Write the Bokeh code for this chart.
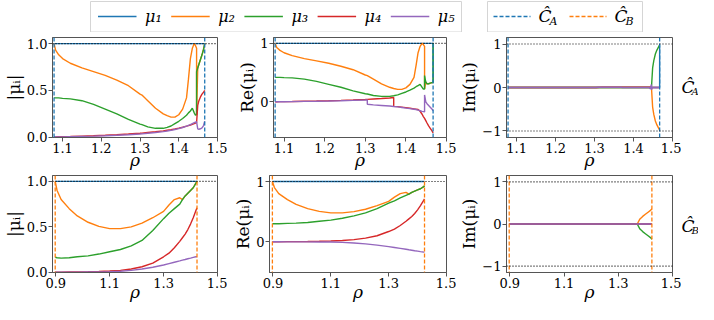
from bokeh.plotting import figure
from bokeh.layouts import column, row
from bokeh.models import Span, FixedTicker, Range1d
from bokeh.embed import file_html
from bokeh.resources import INLINE
from bokeh.core.properties import value

COLORS = ["#1f77b4", "#ff7f0e", "#2ca02c", "#d62728", "#9467bd"]
FONT = "DejaVu Serif"

# ---------------- family C_A ----------------
rhoA = [1.078, 1.082, 1.09, 1.10, 1.12, 1.15, 1.18, 1.21, 1.24, 1.27, 1.30, 1.305, 1.305,
        1.32, 1.34, 1.36, 1.37, 1.37, 1.38, 1.39, 1.40, 1.41, 1.42, 1.425, 1.43, 1.435,
        1.44, 1.443, 1.446, 1.446, 1.449, 1.452, 1.456, 1.46, 1.464, 1.467, 1.467]
boundsA = [1.078, 1.467]

absA1 = [1.0, 1.0, 1.0, 1.0, 1.0, 1.0, 1.0, 1.0, 1.0, 1.0, 1.0, 1.0, 1.0, 1.0, 1.0, 1.0, 1.0, 1.0, 1.0,
         1.0, 1.0, 1.0, 1.0, 1.0, 1.0, 1.0, 1.0, 1.0, 1.0, 1.0, 1.0, 1.0, 1.0, 1.0, 1.0, 1.0, 1.0]
absA2 = [1.0, 0.93, 0.88, 0.84, 0.79, 0.74, 0.70, 0.66, 0.61, 0.55, 0.46, 0.45, 0.45, 0.39, 0.31,
         0.25, 0.23, 0.23, 0.215, 0.215, 0.24, 0.30, 0.42, 0.62, 0.84, 0.95, 1.0, 0.98, 0.95, 0.24,
         0.74, 0.78, 0.83, 0.88, 0.94, 1.0, 1.0]
absA3 = [0.42, 0.42, 0.42, 0.415, 0.41, 0.39, 0.35, 0.30, 0.25, 0.19, 0.14, 0.135, 0.135, 0.11,
         0.095, 0.095, 0.105, 0.105, 0.12, 0.145, 0.17, 0.20, 0.235, 0.26, 0.28, 0.31, 0.26, 0.235,
         0.24, 0.70, 0.74, 0.78, 0.83, 0.88, 0.94, 1.0, 1.0]
absA4 = [0.004, 0.004, 0.005, 0.006, 0.008, 0.012, 0.016, 0.021, 0.027, 0.034, 0.042, 0.044, 0.044,
         0.05, 0.058, 0.068, 0.075, 0.075, 0.08, 0.088, 0.097, 0.107, 0.118, 0.124, 0.13, 0.138,
         0.145, 0.15, 0.155, 0.155, 0.34, 0.39, 0.43, 0.46, 0.48, 0.5, 0.5]
absA5 = [0.002, 0.002, 0.003, 0.004, 0.006, 0.009, 0.012, 0.016, 0.021, 0.027, 0.034, 0.036, 0.036,
         0.042, 0.05, 0.06, 0.066, 0.066, 0.073, 0.082, 0.092, 0.104, 0.118, 0.126, 0.134, 0.145,
         0.155, 0.16, 0.165, 0.165, 0.09, 0.085, 0.09, 0.1, 0.125, 0.17, 0.17]

reA1 = [1.0, 1.0, 1.0, 1.0, 1.0, 1.0, 1.0, 1.0, 1.0, 1.0, 1.0, 1.0, 1.0, 1.0, 1.0, 1.0, 1.0, 1.0, 1.0,
        1.0, 1.0, 1.0, 1.0, 1.0, 1.0, 1.0, 1.0, 1.0, 1.0, 1.0, 1.0, 1.0, 1.0, 1.0, 1.0, 1.0, 0.33]
reA2 = [1.0, 0.93, 0.88, 0.84, 0.79, 0.74, 0.70, 0.66, 0.61, 0.55, 0.46, 0.45, 0.45, 0.39, 0.31,
        0.25, 0.23, 0.23, 0.215, 0.215, 0.24, 0.30, 0.42, 0.62, 0.84, 0.95, 1.0, 0.98, 0.95, 0.22,
        0.34, 0.31, 0.31, 0.32, 0.33, 0.33, 0.33]
reA3 = [0.42, 0.42, 0.42, 0.415, 0.41, 0.39, 0.35, 0.30, 0.25, 0.19, 0.14, 0.135, 0.135, 0.11,
        0.095, 0.095, 0.105, 0.105, 0.12, 0.145, 0.17, 0.20, 0.235, 0.26, 0.28, 0.30, 0.25, 0.22,
        0.22, 0.45, 0.34, 0.31, 0.31, 0.32, 0.33, 0.33, 1.0]
reA4 = [0.004, 0.004, 0.005, 0.006, 0.008, 0.012, 0.016, 0.021, 0.027, 0.034, 0.042, 0.044, 0.044,
        0.05, 0.058, 0.068, 0.075, -0.075, -0.08, -0.088, -0.097, -0.107, -0.118, -0.124, -0.13,
        -0.16, -0.21, -0.25, -0.28, -0.28, -0.32, -0.36, -0.41, -0.45, -0.49, -0.53, -0.53]
reA5 = [0.002, 0.002, 0.003, 0.004, 0.006, 0.009, 0.012, 0.016, 0.021, 0.027, 0.034, 0.036, -0.04,
        -0.05, -0.06, -0.07, -0.078, -0.078, -0.085, -0.095, -0.105, -0.115, -0.125, -0.13, -0.14,
        -0.15, -0.16, -0.165, -0.17, 0.12, 0.0, -0.03, -0.06, -0.09, -0.12, -0.15, -0.15]

imA1 = [0.0, 0.0, 0.0, 0.0, 0.0, 0.0, 0.0, 0.0, 0.0, 0.0, 0.0, 0.0, 0.0, 0.0, 0.0, 0.0, 0.0, 0.0, 0.0,
        0.0, 0.0, 0.0, 0.0, 0.0, 0.0, 0.0, 0.0, 0.0, 0.0, 0.0, 0.0, 0.0, 0.0, 0.0, 0.0, 0.0, 0.97]
imA2 = [0.0, 0.0, 0.0, 0.0, 0.0, 0.0, 0.0, 0.0, 0.0, 0.0, 0.0, 0.0, 0.0, 0.0, 0.0, 0.0, 0.0, 0.0, 0.0,
        0.0, 0.0, 0.0, 0.0, 0.0, 0.0, 0.0, 0.0, 0.0, 0.0, 0.0, -0.45, -0.62, -0.77, -0.86, -0.93,
        -0.98, -0.98]
imA3 = [0.0, 0.0, 0.0, 0.0, 0.0, 0.0, 0.0, 0.0, 0.0, 0.0, 0.0, 0.0, 0.0, 0.0, 0.0, 0.0, 0.0, 0.0, 0.0,
        0.0, 0.0, 0.0, 0.0, 0.0, 0.0, 0.0, 0.0, 0.0, 0.0, 0.0, 0.45, 0.62, 0.77, 0.86, 0.93, 0.98, 0.98]
imA4 = [0.0, 0.0, 0.0, 0.0, 0.0, 0.0, 0.0, 0.0, 0.0, 0.0, 0.0, 0.0, 0.0, 0.008, 0.008, 0.008, 0.008,
        0.008, 0.008, 0.008, 0.008, 0.008, 0.008, 0.008, 0.008, 0.008, 0.008, 0.008, 0.02, 0.0, 0.0,
        0.0, 0.0, 0.0, 0.0, 0.0, 0.0]
imA5 = [0.0, 0.0, 0.0, 0.0, 0.0, 0.0, 0.0, 0.0, 0.0, 0.0, 0.0, 0.0, 0.006, 0.006, 0.006, 0.006,
        0.006, 0.0, 0.0, 0.0, 0.0, 0.0, 0.0, 0.0, 0.0, 0.0, 0.0, -0.03, 0.07, -0.05, 0.0, 0.0, 0.0,
        0.0, 0.0, 0.0, 0.0]

# ---------------- family C_B ----------------
rhoB = [0.898, 0.905, 0.92, 0.95, 0.98, 1.02, 1.06, 1.10, 1.14, 1.18, 1.22, 1.26, 1.30, 1.32,
        1.34, 1.36, 1.37, 1.38, 1.39, 1.40, 1.41, 1.42, 1.424]
boundsB = [0.898, 1.424]

absB1 = [1.0, 1.0, 1.0, 1.0, 1.0, 1.0, 1.0, 1.0, 1.0, 1.0, 1.0, 1.0, 1.0, 1.0, 1.0, 1.0, 1.0, 1.0,
         1.0, 1.0, 1.0, 1.0, 1.0]
absB2 = [1.0, 0.90, 0.80, 0.70, 0.62, 0.55, 0.505, 0.48, 0.48, 0.50, 0.54, 0.60, 0.67, 0.74, 0.80,
         0.82, 0.80, 0.84, 0.87, 0.90, 0.93, 0.98, 1.0]
absB3 = [0.165, 0.16, 0.155, 0.16, 0.17, 0.18, 0.20, 0.225, 0.25, 0.29, 0.35, 0.46, 0.59, 0.65,
         0.70, 0.75, 0.80, 0.84, 0.87, 0.90, 0.93, 0.98, 1.0]
absB4 = [0.0, 0.0, 0.001, 0.002, 0.003, 0.005, 0.008, 0.013, 0.02, 0.035, 0.06, 0.10, 0.17, 0.21,
         0.27, 0.34, 0.38, 0.42, 0.47, 0.53, 0.60, 0.68, 0.71]
absB5 = [0.0, 0.0, 0.0, 0.001, 0.001, 0.002, 0.003, 0.005, 0.01, 0.02, 0.035, 0.055, 0.08, 0.095,
         0.11, 0.125, 0.133, 0.14, 0.148, 0.155, 0.163, 0.17, 0.172]

reB1 = [1.0, 1.0, 1.0, 1.0, 1.0, 1.0, 1.0, 1.0, 1.0, 1.0, 1.0, 1.0, 1.0, 1.0, 1.0, 1.0, 1.0, 1.0,
        1.0, 1.0, 1.0, 1.0, 1.0]
reB2 = [1.0, 0.90, 0.80, 0.70, 0.62, 0.55, 0.505, 0.48, 0.48, 0.50, 0.54, 0.60, 0.67, 0.74, 0.80,
        0.82, 0.79, 0.82, 0.84, 0.86, 0.88, 0.91, 0.93]
reB3 = [0.30, 0.30, 0.30, 0.305, 0.31, 0.32, 0.34, 0.36, 0.39, 0.43, 0.48, 0.55, 0.64, 0.68, 0.73,
        0.77, 0.79, 0.82, 0.84, 0.86, 0.88, 0.91, 0.93]
reB4 = [0.0, 0.0, 0.001, 0.002, 0.003, 0.005, 0.008, 0.013, 0.02, 0.035, 0.06, 0.10, 0.17, 0.21,
        0.27, 0.34, 0.38, 0.42, 0.47, 0.53, 0.60, 0.68, 0.71]
reB5 = [0.0, 0.0, 0.0, -0.001, -0.001, -0.002, -0.003, -0.005, -0.01, -0.02, -0.035, -0.055, -0.08,
        -0.095, -0.11, -0.125, -0.133, -0.14, -0.148, -0.155, -0.163, -0.17, -0.172]

imB1 = [0.0, 0.0, 0.0, 0.0, 0.0, 0.0, 0.0, 0.0, 0.0, 0.0, 0.0, 0.0, 0.0, 0.0, 0.0, 0.0, 0.0, 0.0,
        0.0, 0.0, 0.0, 0.0, 0.0]
imB2 = [0.0, 0.0, 0.0, 0.0, 0.0, 0.0, 0.0, 0.0, 0.0, 0.0, 0.0, 0.0, 0.0, 0.0, 0.0, 0.0, 0.0, 0.12,
        0.18, 0.23, 0.28, 0.33, 0.36]
imB3 = [0.0, 0.0, 0.0, 0.0, 0.0, 0.0, 0.0, 0.0, 0.0, 0.0, 0.0, 0.0, 0.0, 0.0, 0.0, 0.0, 0.0, -0.12,
        -0.18, -0.23, -0.28, -0.33, -0.36]
imB4 = imB1
imB5 = imB1

xticksA = [1.1, 1.2, 1.3, 1.4, 1.5]
xticksB = [0.9, 1.1, 1.3, 1.5]
series_labels = ["μ₁", "μ₂", "μ₃", "μ₄", "μ₅"]
family_labels = ["A", "B"]

SPINE = "#555555"


def bare(w, h, ymax):
    q = figure(width=w, height=h, x_range=Range1d(0, w), y_range=Range1d(0, ymax), title=None,
               output_backend="svg", toolbar_location=None, min_border=0,
               x_axis_location=None, y_axis_location=None)
    q.xgrid.visible = False
    q.ygrid.visible = False
    q.outline_line_color = None
    return q


def panel(x, series, xr, yr, xticks, yticks, ylab_over, ylabel, bounds, bcolor, dotted,
          w, h, bl, br, bt, bb, rho_standoff):
    p = figure(width=w, height=h, x_range=Range1d(*xr), y_range=Range1d(*yr), title=None,
               output_backend="svg", toolbar_location=None,
               min_border_left=bl, min_border_right=br, min_border_top=bt, min_border_bottom=bb)
    for c, ys in zip(COLORS, series):
        p.line(x, ys, line_color=c, line_width=1.4)
    for b in bounds:
        p.add_layout(Span(location=b, dimension="height", line_color=bcolor,
                          line_dash="4 2", line_width=1.3))
    for d in dotted:
        p.add_layout(Span(location=d, dimension="width", line_color="black",
                          line_dash="1 2", line_width=1.2))
    p.xgrid.visible = False
    p.ygrid.visible = False
    p.outline_line_color = SPINE
    p.outline_line_width = 1
    p.xaxis.ticker = FixedTicker(ticks=xticks)
    p.yaxis.ticker = FixedTicker(ticks=yticks)
    p.yaxis.major_label_overrides = ylab_over
    for ax in (p.xaxis[0], p.yaxis[0]):
        ax.axis_line_color = SPINE
        ax.major_tick_line_color = SPINE
        ax.major_tick_in = 0
        ax.major_tick_out = 4
        ax.minor_tick_line_color = None
        ax.major_label_text_font = FONT
        ax.major_label_text_font_size = "13px"
        ax.major_label_text_color = "black"
        ax.major_label_standoff = 1
        ax.axis_label_text_font = FONT
        ax.axis_label_text_font_size = "17px"
        ax.axis_label_text_color = "black"
    p.xaxis.axis_label = "ρ"
    p.xaxis.axis_label_text_font_style = "italic"
    p.xaxis.axis_label_standoff = rho_standoff
    p.yaxis.axis_label = ylabel
    p.yaxis.axis_label_text_font_style = "normal"
    p.yaxis.axis_label_standoff = 0
    return p


def side_label(h, yc, sub):
    q = bare(17, h, h)
    q.text(x=[0], y=[yc], text=["Ĉ"], text_font=value(FONT), text_font_size="17px",
           text_font_style="italic", text_baseline="middle", text_color="black")
    q.text(x=[10], y=[yc - 6], text=[sub], text_font=value(FONT), text_font_size="10px",
           text_font_style="italic", text_baseline="middle", text_color="black")
    return q


abs_ticks = {0: "0.0", 0.5: "0.5", 1: "1.0"}
re_ticks = {0: "0", 1: "1"}
im_ticks = {-1: "−1", 0: "0", 1: "1"}

xrA = (1.074, 1.5)
xrB = (0.888, 1.5)

# row 1 (family A)
p1 = panel(rhoA, [absA1, absA2, absA3, absA4, absA5], xrA, (-0.003, 1.065), xticksA, [0, 0.5, 1],
           abs_ticks, "|μᵢ|", boundsA, COLORS[0], [1], 227, 140, 48, 10, 5, 35, -6)
p2 = panel(rhoA, [reA1, reA2, reA3, reA4, reA5], xrA, (-0.607, 1.1), xticksA, [0, 1],
           re_ticks, "Re(μᵢ)", boundsA, COLORS[0], [1], 229, 140, 46, 10, 5, 35, -6)
p3 = panel(rhoA, [imA1, imA2, imA3, imA4, imA5], xrA, (-1.15, 1.15), xticksA, [-1, 0, 1],
           im_ticks, "Im(μᵢ)", boundsA, COLORS[0], [1, -1], 225, 140, 44, 9, 5, 35, -6)
s3 = side_label(140, 71, family_labels[0])

# row 2 (family B)
p4 = panel(rhoB, [absB1, absB2, absB3, absB4, absB5], xrB, (-0.003, 1.065), xticksB, [0, 0.5, 1],
           abs_ticks, "|μᵢ|", boundsB, COLORS[1], [1], 227, 132, 44, 10, 3, 30, -9)
p5 = panel(rhoB, [reB1, reB2, reB3, reB4, reB5], xrB, (-0.51, 1.1), xticksB, [0, 1],
           re_ticks, "Re(μᵢ)", boundsB, COLORS[1], [1], 229, 132, 42, 10, 3, 30, -9)
p6 = panel(rhoB, [imB1, imB2, imB3, imB4, imB5], xrB, (-1.15, 1.15), xticksB, [-1, 0, 1],
           im_ticks, "Im(μᵢ)", boundsB, COLORS[1], [1, -1], 225, 132, 44, 9, 3, 30, -9)
s6 = side_label(132, 63, family_labels[1])

# legend strip
leg = bare(698, 32, 32)
leg.quad(left=[90, 487], right=[461, 642], bottom=[0.5, 0.5], top=[31, 31],
         fill_color="white", line_color="#d5d5d5", line_width=1)
ly = 16
x0s = [97.5 + 73.2 * k for k in range(5)]
leg.multi_line(xs=[[a, a + 38.5] for a in x0s], ys=[[ly, ly] for _ in x0s],
               line_color=COLORS, line_width=1.4)
leg.text(x=[a + 47 for a in x0s], y=[ly] * 5, text=series_labels, text_font=value(FONT),
         text_font_size="16px", text_font_style="italic", text_baseline="middle",
         text_color="black")
x1s = [493 + 76 * k for k in range(2)]
leg.multi_line(xs=[[a, a + 37] for a in x1s], ys=[[ly, ly] for _ in x1s],
               line_color=[COLORS[0], COLORS[1]], line_width=1.3, line_dash="4 2")
leg.text(x=[a + 45 for a in x1s], y=[ly + 1] * 2, text=["Ĉ", "Ĉ"], text_font=value(FONT),
         text_font_size="17px", text_font_style="italic", text_baseline="middle",
         text_color="black")
leg.text(x=[a + 56 for a in x1s], y=[ly - 5] * 2, text=family_labels, text_font=value(FONT),
         text_font_size="11px", text_font_style="italic", text_baseline="middle",
         text_color="black")

layout = column(leg, row(p1, p2, p3, s3), row(p4, p5, p6, s6))
open("out.html", "w").write(file_html(layout, INLINE))
